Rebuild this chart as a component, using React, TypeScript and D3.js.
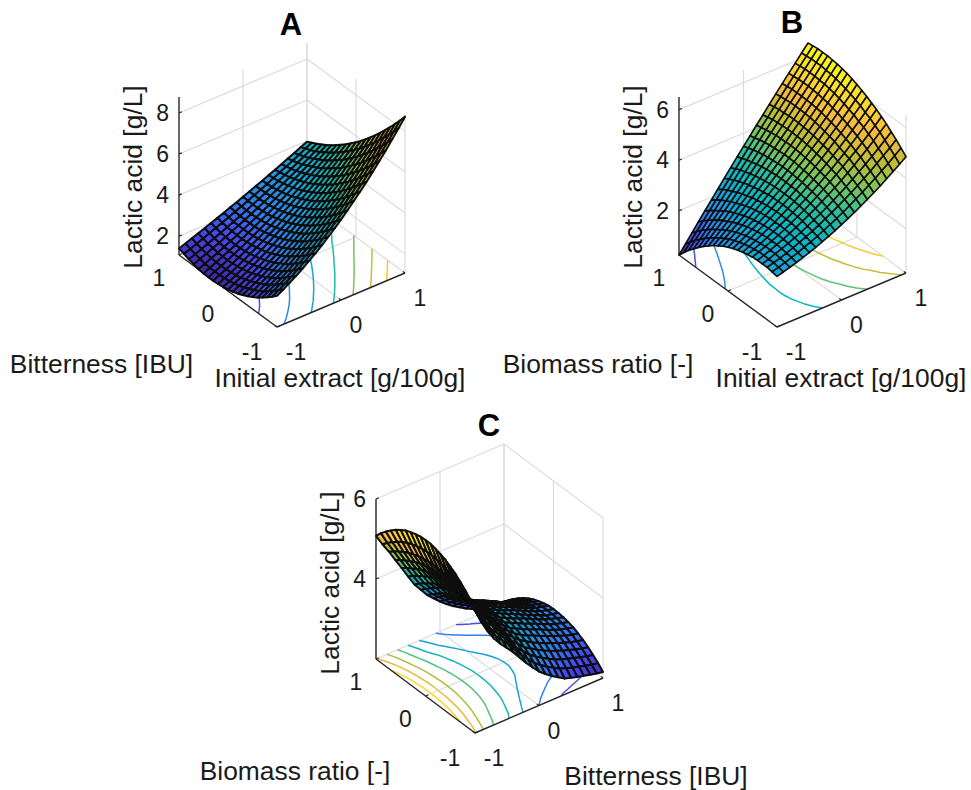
import React from "react";
import * as d3 from "d3";

const axisTicks = [-1, 0, 1];
const gridCoords = [-1,-.9,-.8,-.7,-.6,-.5,-.4,-.3,-.2,-.1,0,.1,.2,.3,.4,.5,.6,.7,.8,.9,1];

const parulaStops = ["#3e26a8","#4748f1","#2f7ff0","#1e9cdc","#06b4c6","#2abd9f","#7cc45c","#bfbe36","#f4b93c","#fbd92e","#f9fb15"];

// rows run over Biomass/Bitterness from -1 to 1, columns over the right-hand axis from -1 to 1
const surfaceA = [
[2.60,2.78,2.98,3.18,3.40,3.64,3.88,4.14,4.42,4.70,5.00,5.31,5.64,5.97,6.32,6.69,7.06,7.45,7.86,8.27,8.70],
[2.38,2.56,2.75,2.96,3.18,3.41,3.65,3.90,4.17,4.45,4.74,5.04,5.36,5.69,6.03,6.39,6.75,7.13,7.52,7.92,8.34],
[2.18,2.36,2.55,2.75,2.96,3.19,3.42,3.67,3.93,4.21,4.49,4.79,5.10,5.42,5.76,6.10,6.45,6.82,7.20,7.59,8.00],
[1.99,2.17,2.35,2.55,2.76,2.98,3.22,3.46,3.72,3.98,4.26,4.55,4.85,5.16,5.49,5.82,6.17,6.53,6.90,7.28,7.67],
[1.81,1.98,2.17,2.37,2.57,2.79,3.02,3.26,3.51,3.77,4.04,4.32,4.62,4.92,5.23,5.56,5.90,6.24,6.60,6.97,7.35],
[1.66,1.83,2.01,2.21,2.41,2.62,2.85,3.08,3.32,3.58,3.84,4.11,4.40,4.69,5.00,5.31,5.64,5.97,6.32,6.67,7.04],
[1.53,1.70,1.88,2.06,2.26,2.47,2.68,2.91,3.15,3.39,3.65,3.92,4.19,4.48,4.77,5.08,5.39,5.72,6.05,6.40,6.75],
[1.41,1.58,1.75,1.93,2.13,2.33,2.54,2.76,2.99,3.23,3.48,3.74,4.00,4.28,4.57,4.86,5.16,5.48,5.80,6.13,6.47],
[1.30,1.46,1.64,1.82,2.00,2.20,2.41,2.62,2.85,3.08,3.32,3.57,3.83,4.10,4.37,4.65,4.94,5.25,5.56,5.87,6.20],
[1.22,1.38,1.55,1.72,1.91,2.10,2.30,2.51,2.72,2.95,3.18,3.42,3.67,3.92,4.19,4.46,4.74,5.03,5.33,5.63,5.94],
[1.15,1.31,1.47,1.64,1.82,2.01,2.20,2.40,2.61,2.83,3.05,3.28,3.52,3.77,4.02,4.28,4.55,4.83,5.11,5.40,5.70],
[1.10,1.25,1.41,1.58,1.75,1.93,2.12,2.32,2.52,2.73,2.94,3.16,3.39,3.63,3.87,4.12,4.38,4.65,4.92,5.19,5.48],
[1.07,1.22,1.37,1.53,1.70,1.88,2.06,2.24,2.44,2.63,2.84,3.05,3.27,3.50,3.73,3.97,4.21,4.46,4.72,4.98,5.25],
[1.05,1.20,1.35,1.50,1.66,1.83,2.01,2.19,2.37,2.56,2.76,2.96,3.17,3.39,3.61,3.83,4.06,4.30,4.55,4.80,5.05],
[1.05,1.19,1.33,1.48,1.64,1.80,1.97,2.14,2.32,2.50,2.69,2.88,3.08,3.28,3.49,3.71,3.93,4.15,4.38,4.62,4.86],
[1.06,1.20,1.34,1.49,1.64,1.79,1.95,2.12,2.29,2.46,2.64,2.82,3.01,3.20,3.40,3.60,3.81,4.02,4.24,4.46,4.68],
[1.09,1.22,1.36,1.50,1.65,1.80,1.95,2.11,2.27,2.43,2.60,2.77,2.95,3.13,3.32,3.51,3.70,3.90,4.10,4.30,4.51],
[1.16,1.28,1.41,1.55,1.68,1.82,1.97,2.12,2.27,2.42,2.58,2.74,2.91,3.08,3.25,3.42,3.60,3.78,3.97,4.16,4.36],
[1.22,1.34,1.46,1.59,1.72,1.86,1.99,2.13,2.28,2.42,2.57,2.72,2.88,3.03,3.19,3.36,3.52,3.69,3.86,4.04,4.22],
[1.31,1.42,1.54,1.66,1.79,1.91,2.04,2.17,2.31,2.44,2.58,2.72,2.86,3.01,3.16,3.31,3.46,3.61,3.77,3.94,4.09],
[1.40,1.51,1.63,1.74,1.86,1.98,2.10,2.22,2.35,2.47,2.60,2.73,2.86,2.99,3.13,3.26,3.40,3.54,3.68,3.83,3.97],
];

const surfaceB = [
[2.25,2.32,2.40,2.48,2.57,2.66,2.76,2.87,2.98,3.10,3.23,3.36,3.50,3.65,3.80,3.96,4.12,4.30,4.48,4.66,4.85],
[2.29,2.36,2.44,2.53,2.62,2.73,2.83,2.95,3.07,3.20,3.33,3.47,3.62,3.78,3.94,4.11,4.28,4.47,4.65,4.85,5.05],
[2.32,2.40,2.48,2.57,2.67,2.78,2.89,3.01,3.14,3.28,3.42,3.57,3.73,3.89,4.06,4.24,4.42,4.62,4.82,5.02,5.24],
[2.32,2.40,2.50,2.59,2.70,2.81,2.93,3.06,3.20,3.34,3.49,3.65,3.81,3.98,4.17,4.36,4.55,4.75,4.96,5.18,5.40],
[2.32,2.41,2.51,2.62,2.73,2.85,2.98,3.12,3.26,3.41,3.57,3.74,3.91,4.09,4.28,4.48,4.69,4.90,5.12,5.35,5.58],
[2.30,2.40,2.51,2.62,2.74,2.87,3.01,3.15,3.30,3.46,3.63,3.81,3.99,4.18,4.38,4.59,4.79,5.01,5.24,5.47,5.72],
[2.26,2.37,2.48,2.61,2.74,2.88,3.02,3.17,3.34,3.50,3.68,3.86,4.06,4.25,4.46,4.67,4.90,5.13,5.37,5.61,5.86],
[2.21,2.33,2.45,2.59,2.73,2.87,3.03,3.19,3.36,3.54,3.72,3.91,4.11,4.32,4.53,4.75,4.98,5.22,5.46,5.71,5.97],
[2.15,2.28,2.41,2.56,2.71,2.87,3.03,3.20,3.38,3.57,3.76,3.96,4.17,4.38,4.61,4.84,5.07,5.32,5.57,5.83,6.09],
[2.07,2.21,2.36,2.51,2.67,2.84,3.01,3.19,3.38,3.58,3.78,3.99,4.21,4.43,4.66,4.90,5.14,5.39,5.65,5.92,6.19],
[1.98,2.13,2.29,2.46,2.63,2.81,2.99,3.19,3.38,3.59,3.80,4.02,4.24,4.48,4.71,4.96,5.21,5.47,5.73,6.00,6.28],
[1.88,2.05,2.22,2.39,2.58,2.77,2.96,3.17,3.37,3.59,3.81,4.04,4.27,4.51,4.76,5.01,5.26,5.53,5.80,6.08,6.36],
[1.75,1.93,2.12,2.31,2.51,2.71,2.92,3.13,3.35,3.58,3.81,4.05,4.29,4.54,4.79,5.05,5.32,5.59,5.86,6.14,6.43],
[1.62,1.81,2.01,2.22,2.43,2.65,2.87,3.09,3.32,3.56,3.80,4.05,4.30,4.55,4.81,5.08,5.35,5.62,5.90,6.19,6.48],
[1.46,1.67,1.89,2.11,2.34,2.57,2.80,3.04,3.28,3.53,3.78,4.03,4.29,4.56,4.83,5.10,5.37,5.65,5.94,6.23,6.52],
[1.30,1.53,1.76,2.00,2.24,2.48,2.73,2.98,3.23,3.49,3.75,4.01,4.28,4.55,4.83,5.10,5.38,5.67,5.95,6.24,6.54],
[1.12,1.37,1.62,1.88,2.13,2.39,2.65,2.92,3.18,3.45,3.72,3.99,4.27,4.54,4.83,5.11,5.39,5.68,5.97,6.27,6.56],
[.92,1.19,1.46,1.73,2.00,2.28,2.55,2.83,3.11,3.39,3.67,3.95,4.23,4.52,4.80,5.10,5.38,5.68,5.97,6.26,6.56],
[.72,1.01,1.30,1.59,1.87,2.17,2.46,2.75,3.04,3.33,3.62,3.91,4.20,4.50,4.79,5.08,5.38,5.67,5.97,6.26,6.56],
[.49,.80,1.11,1.42,1.72,2.03,2.34,2.64,2.94,3.25,3.55,3.85,4.15,4.45,4.75,5.05,5.35,5.64,5.94,6.23,6.53],
[.25,.58,.91,1.24,1.57,1.89,2.21,2.53,2.85,3.17,3.48,3.79,4.10,4.40,4.71,5.02,5.32,5.62,5.91,6.21,6.50],
];

const surfaceC = [
[5.10,4.70,4.40,4.15,3.95,3.78,3.60,3.40,3.20,3.02,2.85,2.72,2.60,2.50,2.40,2.35,2.30,2.26,2.22,2.18,2.15],
[5.26,4.84,4.51,4.26,4.05,3.88,3.71,3.51,3.31,3.14,2.97,2.85,2.74,2.65,2.55,2.50,2.44,2.40,2.35,2.31,2.28],
[5.39,4.96,4.62,4.36,4.14,3.97,3.79,3.60,3.40,3.24,3.09,2.97,2.87,2.78,2.69,2.63,2.57,2.52,2.47,2.43,2.39],
[5.51,5.07,4.71,4.44,4.22,4.06,3.87,3.68,3.48,3.33,3.18,3.08,2.98,2.89,2.81,2.75,2.68,2.63,2.57,2.53,2.49],
[5.62,5.17,4.80,4.52,4.30,4.12,3.94,3.76,3.55,3.41,3.27,3.17,3.07,2.99,2.91,2.85,2.78,2.72,2.66,2.62,2.58],
[5.70,5.25,4.87,4.59,4.36,4.18,3.99,3.81,3.61,3.47,3.34,3.24,3.15,3.08,3.00,2.93,2.86,2.80,2.73,2.69,2.65],
[5.78,5.32,4.93,4.64,4.41,4.23,4.04,3.85,3.66,3.52,3.39,3.30,3.22,3.14,3.07,3.00,2.92,2.86,2.79,2.75,2.71],
[5.83,5.37,4.97,4.68,4.44,4.26,4.07,3.89,3.69,3.56,3.43,3.35,3.27,3.19,3.12,3.05,2.97,2.90,2.84,2.79,2.75],
[5.87,5.41,5.02,4.72,4.47,4.28,4.10,3.91,3.71,3.59,3.46,3.38,3.30,3.23,3.16,3.08,3.00,2.93,2.87,2.82,2.78],
[5.90,5.44,5.04,4.74,4.49,4.30,4.10,3.92,3.72,3.60,3.48,3.40,3.32,3.25,3.17,3.09,3.01,2.94,2.87,2.83,2.79],
[5.90,5.45,5.05,4.75,4.50,4.30,4.10,3.92,3.72,3.60,3.48,3.40,3.32,3.25,3.18,3.10,3.02,2.95,2.88,2.84,2.80],
[5.89,5.45,5.06,4.75,4.50,4.29,4.09,3.91,3.71,3.59,3.47,3.39,3.31,3.24,3.17,3.09,3.01,2.94,2.87,2.83,2.79],
[5.86,5.43,5.05,4.74,4.48,4.27,4.07,3.88,3.68,3.56,3.44,3.36,3.28,3.21,3.14,3.05,2.97,2.90,2.84,2.80,2.76],
[5.82,5.40,5.02,4.72,4.46,4.25,4.02,3.85,3.64,3.52,3.40,3.32,3.24,3.16,3.09,3.01,2.93,2.86,2.79,2.76,2.72],
[5.77,5.36,4.99,4.69,4.43,4.20,3.98,3.79,3.60,3.47,3.35,3.26,3.18,3.10,3.03,2.94,2.86,2.80,2.73,2.70,2.67],
[5.69,5.30,4.94,4.65,4.38,4.15,3.92,3.73,3.53,3.41,3.29,3.19,3.10,3.03,2.95,2.86,2.78,2.72,2.66,2.63,2.60],
[5.60,5.23,4.89,4.59,4.33,4.09,3.85,3.67,3.46,3.33,3.21,3.11,3.01,2.93,2.85,2.77,2.69,2.63,2.57,2.55,2.52],
[5.49,5.14,4.82,4.52,4.26,4.01,3.76,3.58,3.38,3.24,3.11,3.01,2.91,2.82,2.74,2.66,2.58,2.52,2.47,2.45,2.42],
[5.37,5.04,4.74,4.45,4.18,3.92,3.67,3.48,3.28,3.14,3.01,2.89,2.79,2.70,2.61,2.53,2.45,2.40,2.35,2.33,2.31],
[5.24,4.93,4.65,4.37,4.10,3.83,3.57,3.37,3.17,3.03,2.88,2.76,2.65,2.56,2.46,2.38,2.31,2.26,2.22,2.20,2.19],
[5.08,4.80,4.55,4.27,4.00,3.72,3.45,3.25,3.05,2.90,2.75,2.62,2.50,2.40,2.30,2.22,2.15,2.11,2.07,2.06,2.05],
];

const contourLevelsA = [1.85,2.8,3.72,4.65,5.6,6.55,7.5];
const contourLevelsB = [1.0,1.93,2.87,3.8,4.73,5.67];
const contourLevelsC = [2.45,2.85,3.3,3.72,4.17,4.62,5.05,5.5];

const zTicksA = [2,4,6,8];
const zTicksB = [2,4,6];
const zTicksC = [4,6];

const FONT = "'Liberation Sans', Arial, sans-serif";
const INK = "#262626";
const GRID = "#dcdcdc";

type Pt = { x: number; y: number };
type PanelCfg = {
  title: string; titlePos: Pt;
  front: Pt; left: Pt; right: Pt; boxH: number; meshWidth: number;
  zDomain: [number, number]; zTicks: number[]; surface: number[][]; levels: number[];
  leftLabel: string; rightLabel: string; leftLabelPos: Pt; rightLabelPos: Pt;
};

const panels: PanelCfg[] = [
  { title: "A", titlePos: { x: 291, y: 35 }, front: { x: 277, y: 327 }, left: { x: 179, y: 255 }, right: { x: 405, y: 273 }, boxH: 158, meshWidth: 2,
    zDomain: [1.08, 8.78], zTicks: zTicksA, surface: surfaceA, levels: contourLevelsA,
    leftLabel: "Bitterness [IBU]", rightLabel: "Initial extract [g/100g]", leftLabelPos: { x: 101.5, y: 373 }, rightLabelPos: { x: 340, y: 387 } },
  { title: "B", titlePos: { x: 792, y: 33 }, front: { x: 777, y: 327 }, left: { x: 679, y: 255 }, right: { x: 906, y: 273 }, boxH: 158, meshWidth: 1.6,
    zDomain: [0.25, 6.5], zTicks: zTicksB, surface: surfaceB, levels: contourLevelsB,
    leftLabel: "Biomass ratio [-]", rightLabel: "Initial extract [g/100g]", leftLabelPos: { x: 598, y: 373 }, rightLabelPos: { x: 841, y: 387 } },
  { title: "C", titlePos: { x: 489, y: 436 }, front: { x: 475, y: 733 }, left: { x: 376, y: 659 }, right: { x: 603, y: 678 }, boxH: 160, meshWidth: 2,
    zDomain: [2, 6], zTicks: zTicksC, surface: surfaceC, levels: contourLevelsC,
    leftLabel: "Biomass ratio [-]", rightLabel: "Bitterness [IBU]", leftLabelPos: { x: 295, y: 780 }, rightLabelPos: { x: 656, y: 785 } },
];

function Panel({ cfg }: { cfg: PanelCfg }) {
  const { front, left, right, boxH, zDomain, surface, levels } = cfg;
  const u = d3.scaleLinear().domain([-1, 1]).range([0, 1]);
  const h = d3.scaleLinear().domain(zDomain).range([0, boxH]);
  const ex = { x: right.x - front.x, y: right.y - front.y };
  const ey = { x: left.x - front.x, y: left.y - front.y };
  const project = (a: number, b: number, z: number): [number, number] => {
    const X = u(a), Y = u(b);
    return [front.x + X * ex.x + Y * ey.x, front.y + X * ex.y + Y * ey.y - h(z)];
  };
  const floorZ = zDomain[0];
  const topZ = zDomain[1];
  const seg = (p: [number, number], q: [number, number], stroke: string, w: number, k: string) => (
    <line key={k} x1={p[0]} y1={p[1]} x2={q[0]} y2={q[1]} stroke={stroke} strokeWidth={w} />
  );

  const flat = surface.flat();
  const [zMin, zMax] = d3.extent(flat) as [number, number];
  const colour = d3.scaleLinear<string>()
    .domain(parulaStops.map((_, i) => zMin + (i / (parulaStops.length - 1)) * (zMax - zMin)))
    .range(parulaStops)
    .interpolate(d3.interpolateRgb)
    .clamp(true);

  // Sight line in box units: the direction that projects to a single screen point.
  const vx = -ey.x, vy = ex.x;
  const vz = (ex.y * vx + ey.y * vy) / boxH;
  const depth = (a: number, b: number, z: number) => {
    const zn = (z - floorZ) / (topZ - floorZ);
    return vx * u(a) + vy * u(b) + vz * zn;
  };

  const n = gridCoords.length;
  const cells: { pts: string; fill: string; d: number; key: string }[] = [];
  for (let j = 0; j < n - 1; j++) {
    for (let i = 0; i < n - 1; i++) {
      const corners: [number, number][] = [[i, j], [i + 1, j], [i + 1, j + 1], [i, j + 1]];
      const zs = corners.map(([ci, cj]) => surface[cj][ci]);
      const mz = d3.mean(zs) as number;
      const ma = (gridCoords[i] + gridCoords[i + 1]) / 2;
      const mb = (gridCoords[j] + gridCoords[j + 1]) / 2;
      cells.push({
        key: `${i}-${j}`,
        pts: corners.map(([ci, cj]) => project(gridCoords[ci], gridCoords[cj], surface[cj][ci]).map(v => v.toFixed(2)).join(",")).join(" "),
        fill: colour(mz),
        d: depth(ma, mb, mz),
      });
    }
  }
  cells.sort((p, q) => d3.descending(p.d, q.d));

  const gridToCoord = d3.scaleLinear().domain([0.5, n - 0.5]).range([-1, 1]);
  const inside = (p: number[]) => p[0] >= 0.49 && p[0] <= n - 0.49 && p[1] >= 0.49 && p[1] <= n - 0.49;
  const contourGen = d3.contours().size([n, n]).smooth(true).thresholds(levels);
  const contourSets = contourGen(flat);
  const contourPaths: { d: string; stroke: string }[] = [];
  const lineGen = d3.line();
  contourSets.forEach(set => {
    const stroke = colour(set.value);
    set.coordinates.forEach(poly => poly.forEach(ring => {
      const open = ring.slice(0, -1);
      const firstOut = open.findIndex(p => !inside(p));
      const rotated = firstOut < 0 ? ring : [...open.slice(firstOut), ...open.slice(0, firstOut), open[firstOut]];
      let piece: number[][] = [];
      const flush = () => {
        if (piece.length > 1) {
          const pts = piece.map(p => project(gridToCoord(p[0]), gridToCoord(p[1]), floorZ));
          contourPaths.push({ d: lineGen(pts) as string, stroke });
        }
        piece = [];
      };
      rotated.forEach(p => { if (inside(p)) piece.push(p); else flush(); });
      flush();
    }));
  });

  const tickLen = 0.022;
  const grid: React.ReactNode[] = [];
  axisTicks.forEach(t => {
    if (t !== -1) {
      grid.push(seg(project(t, -1, floorZ), project(t, 1, floorZ), GRID, 1.2, `fx${t}`));
      grid.push(seg(project(-1, t, floorZ), project(1, t, floorZ), GRID, 1.2, `fy${t}`));
      grid.push(seg(project(t, 1, floorZ), project(t, 1, topZ), GRID, 1.2, `wx${t}`));
    }
    grid.push(seg(project(1, t, floorZ), project(1, t, topZ), GRID, 1.2, `wy${t}`));
  });
  cfg.zTicks.forEach(t => {
    grid.push(seg(project(-1, 1, t), project(1, 1, t), GRID, 1.2, `hx${t}`));
    grid.push(seg(project(1, 1, t), project(1, -1, t), GRID, 1.2, `hy${t}`));
  });

  const axes: React.ReactNode[] = [];
  axes.push(seg(project(-1, 1, floorZ), project(-1, 1, topZ), INK, 1.4, "zaxis"));
  axes.push(seg(project(-1, 1, floorZ), project(-1, -1, floorZ), INK, 1.4, "yaxis"));
  axes.push(seg(project(-1, -1, floorZ), project(1, -1, floorZ), INK, 1.4, "xaxis"));
  cfg.zTicks.forEach(t => {
    axes.push(seg(project(-1, 1, t), project(-1 + tickLen * 2, 1, t), INK, 1.2, `zt${t}`));
  });
  axisTicks.forEach(t => {
    axes.push(seg(project(t, -1, floorZ), project(t, -1 + tickLen * 2, floorZ), INK, 1.2, `xt${t}`));
    axes.push(seg(project(-1, t, floorZ), project(-1 + tickLen * 2, t, floorZ), INK, 1.2, `yt${t}`));
  });

  const tickFont = 23;
  const labelFont = 26.4;
  const filterId = `soft${cfg.title}`;
  const zPos = project(-1, 1, floorZ);
  const midZ = front.y - 150;
  return (
    <g fontFamily={FONT} fill="#1a1a1a">
      <defs>
        <filter id={filterId} x="-5%" y="-5%" width="110%" height="110%">
          <feGaussianBlur stdDeviation="0.4" />
        </filter>
      </defs>
      <g>{grid}</g>
      <g fill="none" strokeWidth={1.5} strokeLinejoin="round">
        {contourPaths.map((c, i) => <path key={i} d={c.d} stroke={c.stroke} />)}
      </g>
      <g>{axes}</g>
      <g filter={`url(#${filterId})`}>
        {cells.map(c => (
          <polygon key={c.key} points={c.pts} fill={c.fill} stroke="#0a0a0a" strokeWidth={cfg.meshWidth} strokeLinejoin="round" />
        ))}
      </g>
      {cfg.zTicks.map(t => {
        const p = project(-1, 1, t);
        return <text key={t} x={p[0] - 10} y={p[1] + tickFont * 0.36} textAnchor="end" fontSize={tickFont}>{t}</text>;
      })}
      {axisTicks.map(t => {
        const p = project(-1, t, floorZ);
        const dx = t === -1 ? -25 : -20;
        return <text key={`l${t}`} x={p[0] + dx} y={p[1] + (t === -1 ? 33 : 31)} textAnchor="middle" fontSize={tickFont}>{t}</text>;
      })}
      {axisTicks.map(t => {
        const p = project(t, -1, floorZ);
        const dx = t === -1 ? 19 : 15;
        return <text key={`r${t}`} x={p[0] + dx} y={p[1] + 33} textAnchor="middle" fontSize={tickFont}>{t}</text>;
      })}
      <text transform={`translate(${zPos[0] - 37},${midZ}) rotate(-90)`} textAnchor="middle" fontSize={labelFont}>Lactic acid [g/L]</text>
      <text x={cfg.leftLabelPos.x} y={cfg.leftLabelPos.y} textAnchor="middle" fontSize={labelFont}>{cfg.leftLabel}</text>
      <text x={cfg.rightLabelPos.x} y={cfg.rightLabelPos.y} textAnchor="middle" fontSize={labelFont}>{cfg.rightLabel}</text>
      <text x={cfg.titlePos.x} y={cfg.titlePos.y} textAnchor="middle" fontSize={31} fontWeight="bold" fill="#000">{cfg.title}</text>
    </g>
  );
}

export default function App() {
  return (
    <svg width={971} height={790} viewBox="0 0 971 790" style={{ position: "absolute", left: 0, top: 0, background: "#fff" }}>
      {panels.map(p => <Panel key={p.title} cfg={p} />)}
    </svg>
  );
}
